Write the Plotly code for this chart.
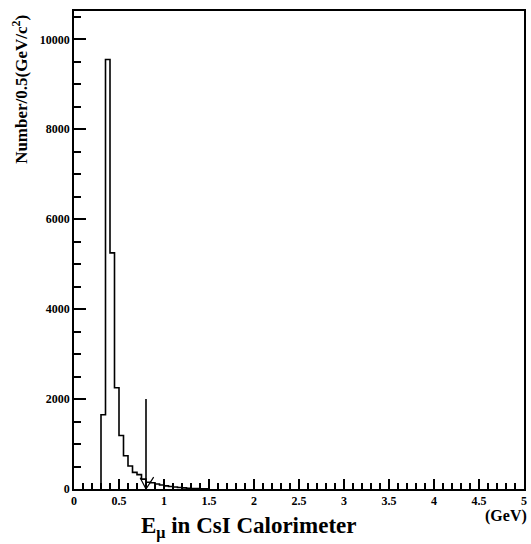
import plotly.graph_objects as go

# Histogram data (bin width 0.05 GeV)
bin_edges = [0.30, 0.35, 0.40, 0.45, 0.50, 0.55, 0.60, 0.65, 0.70, 0.75,
             0.80, 0.85, 0.90, 0.95, 1.00, 1.05, 1.10, 1.15, 1.20, 1.25,
             1.30, 1.35, 1.40, 1.45, 1.50]
counts = [1650, 9550, 5250, 2250, 1190, 740, 510, 370, 320, 220,
          150, 140, 110, 90, 70, 55, 45, 35, 25, 18,
          12, 8, 5, 3]

# Overlaid "V" curve and cut marker
v_x = [0.735, 0.80, 0.885]
v_y = [250, 0, 265]
cut_x = [0.80, 0.80]
cut_y = [0, 2000]

FONT = "Liberation Serif"

step_x = [bin_edges[0]] + bin_edges
step_y = [0] + counts + [0]

fig = go.Figure()
fig.add_trace(go.Scatter(x=step_x, y=step_y, mode="lines", line_shape="hv",
                         line=dict(color="black", width=1.6), showlegend=False,
                         hoverinfo="skip"))
fig.add_trace(go.Scatter(x=v_x, y=v_y, mode="lines",
                         line=dict(color="black", width=1.2), showlegend=False,
                         hoverinfo="skip"))
fig.add_trace(go.Scatter(x=cut_x, y=cut_y, mode="lines",
                         line=dict(color="black", width=1.6), showlegend=False,
                         hoverinfo="skip"))

fig.update_layout(
    width=531, height=544,
    margin=dict(l=74, r=4, t=11, b=55),
    paper_bgcolor="white", plot_bgcolor="white",
    font=dict(family=FONT, color="black"),
    xaxis=dict(range=[0, 5], showgrid=False, zeroline=False,
               showline=True, linecolor="black", linewidth=1.5, mirror=True,
               tickmode="linear", tick0=0, dtick=0.5,
               ticks="inside", ticklen=10, tickwidth=1.8, tickcolor="black",
               tickfont=dict(family=FONT, size=12, color="black", weight="bold"),
               minor=dict(tick0=0, dtick=0.1, ticks="inside",
                          ticklen=6, tickwidth=1.5, tickcolor="black",
                          showgrid=False)),
    yaxis=dict(range=[0, 10630], showgrid=False, zeroline=False,
               showline=True, linecolor="black", linewidth=1.5, mirror=True,
               tickmode="linear", tick0=0, dtick=2000, tickformat="d",
               ticks="inside", ticklen=12, tickwidth=1.8, tickcolor="black",
               tickfont=dict(family=FONT, size=12, color="black", weight="bold"),
               minor=dict(tick0=0, dtick=500, ticks="inside",
                          ticklen=7, tickwidth=1.5, tickcolor="black",
                          showgrid=False)),
    annotations=[
        dict(text="Number/0.5(GeV/c<sup>2</sup>)", textangle=-90,
             xref="paper", yref="paper", x=-0.12, y=0.835,
             xanchor="center", yanchor="middle", showarrow=False,
             font=dict(family=FONT, size=17, color="black", weight="bold")),
        dict(text="E<sub>μ</sub> in CsI Calorimeter",
             xref="paper", yref="paper", x=0.388, y=-0.08,
             xanchor="center", yanchor="middle", showarrow=False,
             font=dict(family=FONT, size=23, color="black", weight="bold")),
        dict(text="(GeV)",
             xref="paper", yref="paper", x=1.012, y=-0.056,
             xanchor="right", yanchor="middle", showarrow=False,
             font=dict(family=FONT, size=16, color="black", weight="bold")),
    ],
)

fig.write_html("out.html")
